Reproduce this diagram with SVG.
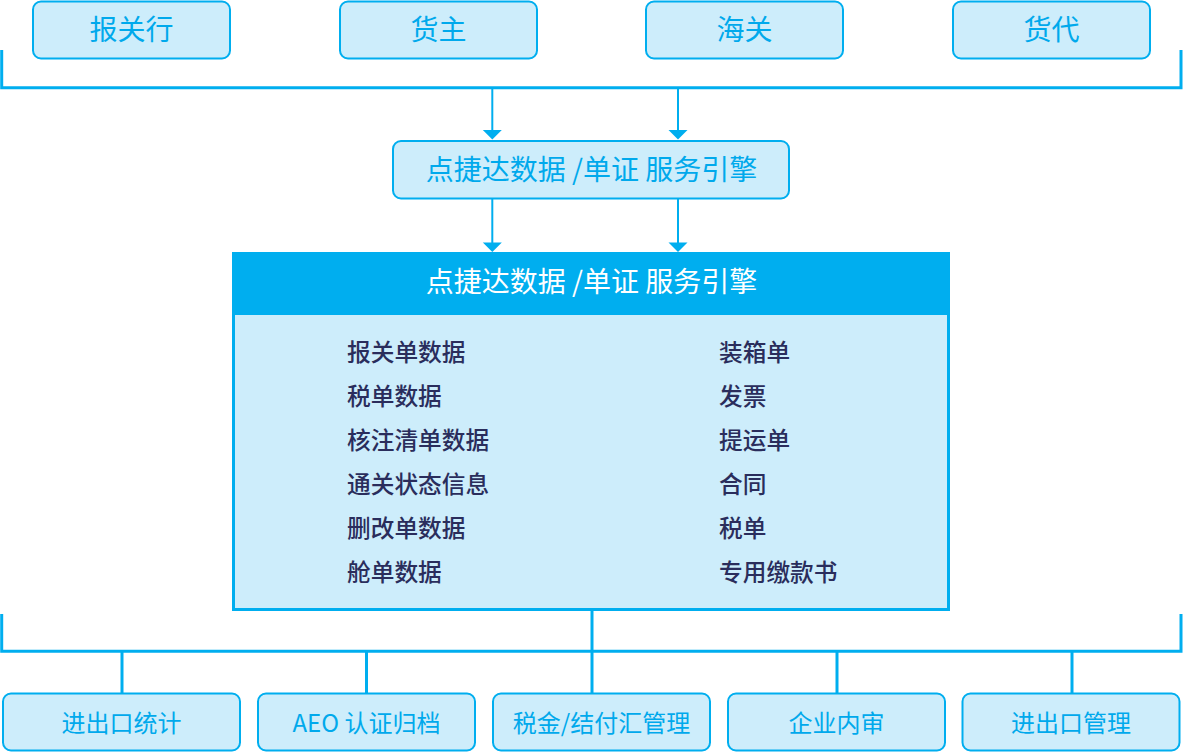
<svg xmlns="http://www.w3.org/2000/svg" width="1183" height="752" viewBox="0 0 1183 752">
<style>
.box{fill:#cdedfb;stroke:#00aeef;stroke-width:2}
.t{font-family:"Noto Sans CJK SC","Noto Sans",sans-serif;fill:#00a9ec;text-anchor:middle}
.top{font-size:28px}
.bot{font-size:24px}
.ttl{font-size:28px}
.item{font-family:"Noto Sans CJK SC","Noto Sans",sans-serif;font-size:23.7px;font-weight:500;fill:#2a2d5c}
.bus{fill:none;stroke:#00aeef;stroke-width:3}
.arr{fill:none;stroke:#00aeef;stroke-width:2;marker-end:url(#ah)}
</style>
<defs>
<marker id="ah" markerUnits="userSpaceOnUse" markerWidth="20" markerHeight="20" viewBox="0 -10 10 20" refX="7" refY="0" orient="auto">
<path d="M0,-9.5 L9.5,0 L0,9.5 Z" fill="#00aeef"/>
</marker>
</defs>
<rect width="1183" height="752" fill="#ffffff"/>
<g id="connectors">
<polyline class="bus" points="1.7,50 1.7,87.7 1181,87.7 1181,50"/>
<line class="arr" x1="492.3" y1="89" x2="492.3" y2="137"/>
<line class="arr" x1="678" y1="89" x2="678" y2="137"/>
<line class="arr" x1="492.3" y1="199" x2="492.3" y2="249.5"/>
<line class="arr" x1="678" y1="199" x2="678" y2="249.5"/>
<polyline class="bus" points="1.7,614 1.7,651.3 1181,651.3 1181,614"/>
<line class="bus" x1="592" y1="611" x2="592" y2="693"/>
<line class="bus" x1="122" y1="651" x2="122" y2="693"/>
<line class="bus" x1="366.5" y1="651" x2="366.5" y2="693"/>
<line class="bus" x1="837" y1="651" x2="837" y2="693"/>
<line class="bus" x1="1072" y1="651" x2="1072" y2="693"/>
</g>
<g id="n-baoguanhang"><rect class="box" x="33" y="1.5" width="197" height="57" rx="8"/><text class="t top" x="131.5" y="39.6">报关行</text></g>
<g id="n-huozhu"><rect class="box" x="340" y="1.5" width="197" height="57" rx="8"/><text class="t top" x="438.5" y="39.6">货主</text></g>
<g id="n-haiguan"><rect class="box" x="646" y="1.5" width="197" height="57" rx="8"/><text class="t top" x="744.5" y="39.6">海关</text></g>
<g id="n-huodai"><rect class="box" x="953" y="1.5" width="197" height="57" rx="8"/><text class="t top" x="1051.5" y="39.6">货代</text></g>
<g id="n-engine"><rect class="box" x="393" y="141" width="396" height="57.5" rx="8"/><text class="t ttl" x="591.5" y="180">点捷达数据 /单证 服务引擎</text></g>
<g id="n-main">
<rect x="233.5" y="253.5" width="715" height="356" fill="#cdedfb" stroke="#00aeef" stroke-width="3"/>
<rect x="232" y="252" width="718" height="63" fill="#00aeef"/>
<text class="t ttl" x="591.5" y="292" style="fill:#ffffff">点捷达数据 /单证 服务引擎</text>
<text class="item" x="347" y="360.7">报关单数据</text>
<text class="item" x="347" y="404.7">税单数据</text>
<text class="item" x="347" y="448.7">核注清单数据</text>
<text class="item" x="347" y="492.7">通关状态信息</text>
<text class="item" x="347" y="536.7">删改单数据</text>
<text class="item" x="347" y="580.7">舱单数据</text>
<text class="item" x="719" y="360.7">装箱单</text>
<text class="item" x="719" y="404.7">发票</text>
<text class="item" x="719" y="448.7">提运单</text>
<text class="item" x="719" y="492.7">合同</text>
<text class="item" x="719" y="536.7">税单</text>
<text class="item" x="719" y="580.7">专用缴款书</text>
</g>
<g id="n-tongji"><rect class="box" x="3" y="693.5" width="237" height="57" rx="8"/><text class="t bot" x="121.5" y="731.6">进出口统计</text></g>
<g id="n-aeo"><rect class="box" x="258" y="693.5" width="217" height="57" rx="8"/><text class="t bot" x="366.5" y="731.6">AEO 认证归档</text></g>
<g id="n-shuijin"><rect class="box" x="493" y="693.5" width="217" height="57" rx="8"/><text class="t bot" x="601.5" y="731.6">税金/结付汇管理</text></g>
<g id="n-neishen"><rect class="box" x="728" y="693.5" width="217" height="57" rx="8"/><text class="t bot" x="836.5" y="731.6">企业内审</text></g>
<g id="n-guanli"><rect class="box" x="962.5" y="693.5" width="217" height="57" rx="8"/><text class="t bot" x="1071" y="731.6">进出口管理</text></g>
</svg>
